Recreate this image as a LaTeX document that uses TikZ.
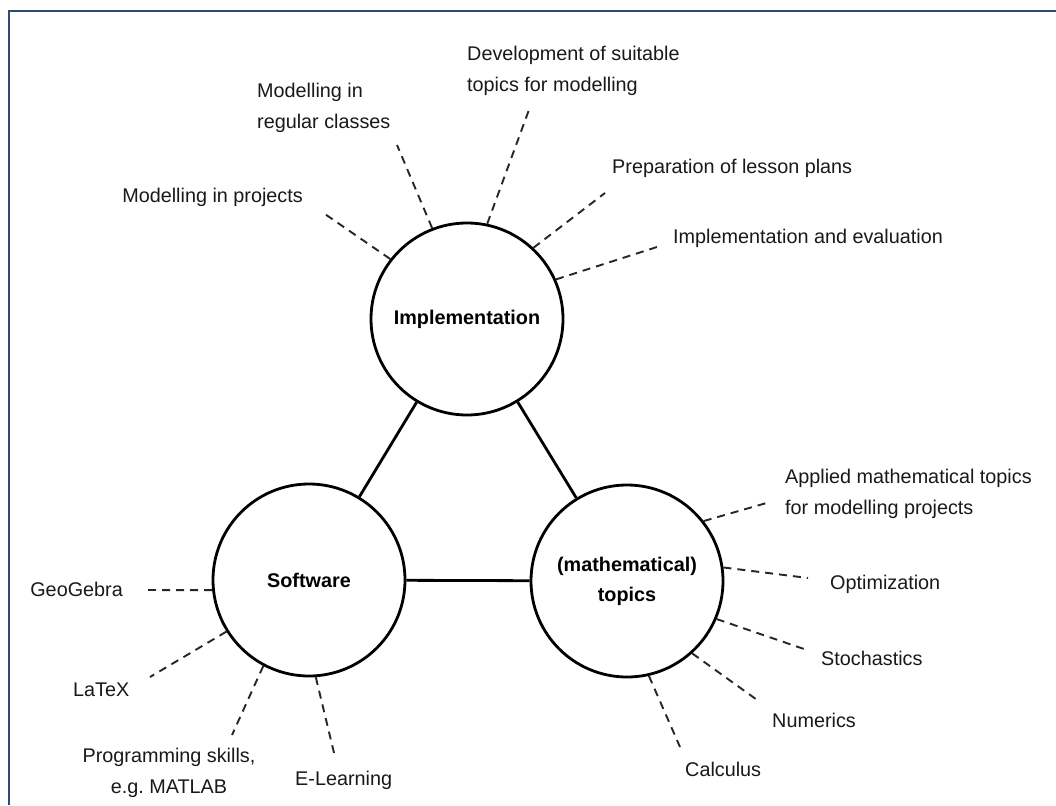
\documentclass[tikz,border=0pt]{standalone}
\usepackage{fontspec}
\setmainfont{Liberation Sans}
\definecolor{framecol}{RGB}{45,75,115}
\begin{document}
\begin{tikzpicture}[x=1pt,y=-1pt,
  hub/.style={circle,draw=black,line width=2.8pt,minimum size=192pt,inner sep=0pt,
    align=center,font=\fontsize{19.8}{30}\selectfont\bfseries},
  lab/.style={inner sep=0pt,font=\fontsize{19.8}{30.5}\selectfont,text=black!90},
  spoke/.style={draw=black!85,line width=1.9pt,dash pattern=on 8pt off 6pt},
  link/.style={draw=black,line width=2.8pt}]
\useasboundingbox (0,0) rectangle (1056,805);
\fill[white] (0,0) rectangle (1056,805);
\draw[framecol,line width=2.6pt] (9,805) -- (9,11) -- (1056,11);

% hubs
\node[hub] (impl) at (467,319) {Implementation};
\node[hub] (soft) at (309,580) {Software};
\node[hub] (math) at (627,581) {(mathematical)\\topics};

% solid links
\draw[link] (impl) -- (soft);
\draw[link] (impl) -- (math);
\draw[link] (soft) -- (math);

% free ends of spokes
\coordinate (c1) at (322,212);
\coordinate (c2) at (397,145);
\coordinate (c3) at (530,107);
\coordinate (c4) at (605,193);
\coordinate (c5) at (657,247);
\coordinate (c6) at (770,502);
\coordinate (c7) at (808,578);
\coordinate (c8) at (804,649);
\coordinate (c9) at (760,702);
\coordinate (c10) at (680,747);
\coordinate (c11) at (143,590);
\coordinate (c12) at (150,677);
\coordinate (c13) at (232,735);
\coordinate (c14) at (335,757);

% spokes
\draw[spoke] (impl.142) -- (c1);
\draw[spoke] (impl.111) -- (c2);
\draw[spoke] (impl.78) -- (c3);
\draw[spoke] (impl.47) -- (c4);
\draw[spoke] (impl.24) -- (c5);
\draw[spoke] (math.38) -- (c6);
\draw[spoke] (math.8) -- (c7);
\draw[spoke] (math.-23) -- (c8);
\draw[spoke] (math.-48) -- (c9);
\draw[spoke] (math.-77) -- (c10);
\draw[spoke] (soft.186) -- (c11);
\draw[spoke] (soft.212) -- (c12);
\draw[spoke] (soft.242) -- (c13);
\draw[spoke] (soft.274) -- (c14);

% labels
\node[lab,anchor=east] (l1) at (303,197) {Modelling in projects};
\node[lab,anchor=west,align=left] (l2) at (257,108) {Modelling in\\regular classes};
\node[lab,anchor=west,align=left] (l3) at (467,71) {Development of suitable\\topics for modelling};
\node[lab,anchor=west] (l4) at (612,168) {Preparation of lesson plans};
\node[lab,anchor=west] (l5) at (673,238) {Implementation and evaluation};
\node[lab,anchor=west,align=left] (l6) at (785,494) {Applied mathematical topics\\for modelling projects};
\node[lab,anchor=west] (l7) at (830,584) {Optimization};
\node[lab,anchor=west] (l8) at (821,658) {Stochastics};
\node[lab,anchor=west] (l9) at (772,720) {Numerics};
\node[lab,anchor=west] (l10) at (685,769) {Calculus};
\node[lab,anchor=east] (l11) at (123,589) {GeoGebra};
\node[lab,anchor=west] (l12) at (73,690) {LaTeX};
\node[lab,align=center] (l13) at (169,773) {Programming skills,\\e.g.\ MATLAB};
\node[lab,anchor=west] (l14) at (295,780) {E-Learning};
\end{tikzpicture}
\end{document}
